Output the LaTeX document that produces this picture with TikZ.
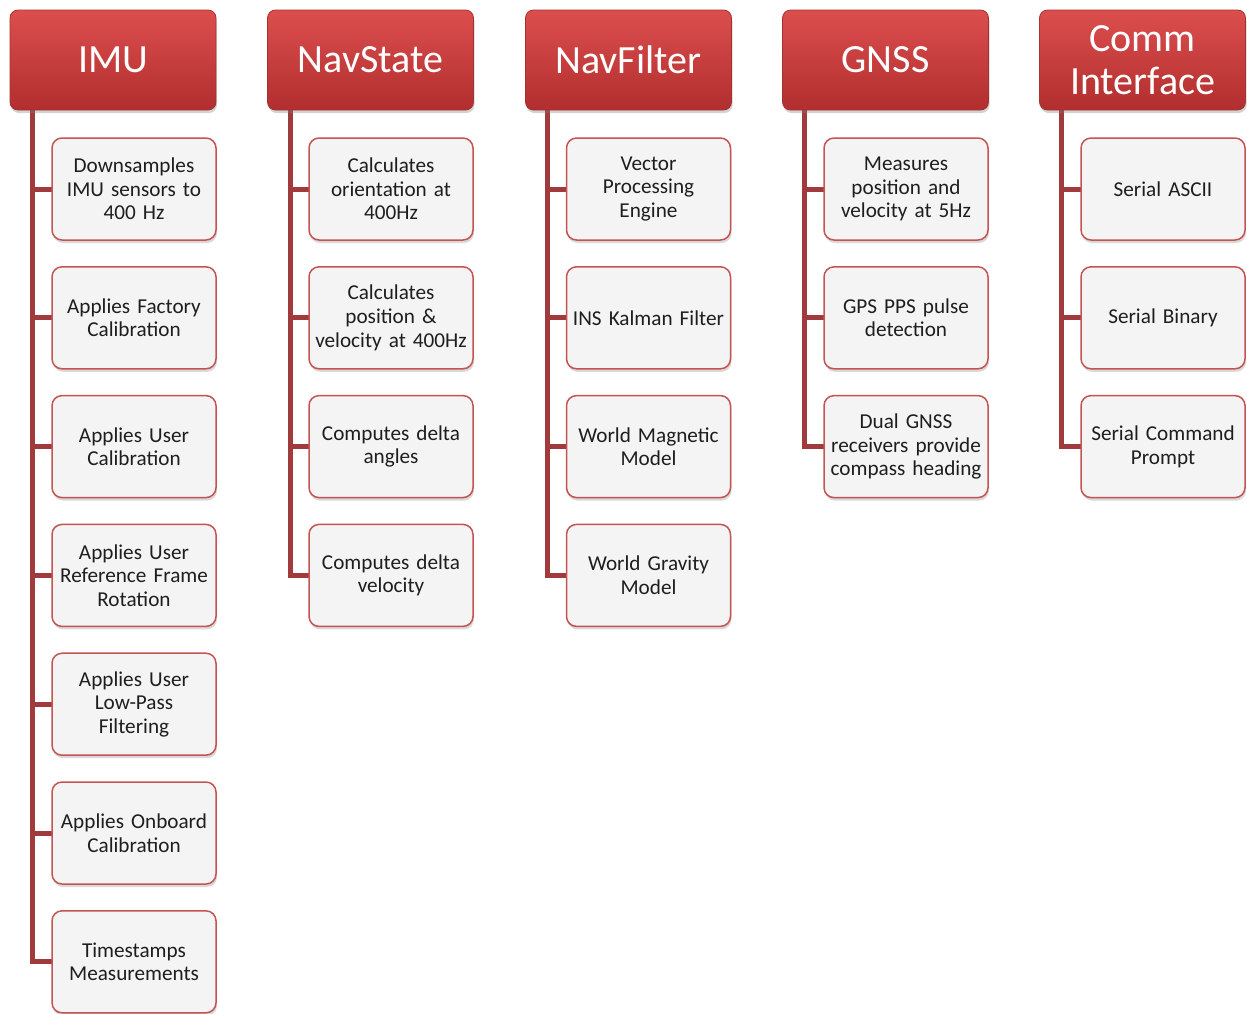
\documentclass[tikz,border=0pt]{standalone}
\usepackage{fontspec}
\setmainfont{Carlito}
\usetikzlibrary{shadows,positioning,calc}
\definecolor{hdtop}{HTML}{DC4E4E}
\definecolor{hdbot}{HTML}{B22E2E}
\definecolor{hdedge}{HTML}{A53232}
\definecolor{chfill}{HTML}{F4F4F4}
\definecolor{chedge}{HTML}{C45452}
\definecolor{conn}{HTML}{A03A3C}
\definecolor{txt}{HTML}{1E1E1E}
\tikzset{
  hdbox/.style={rounded corners=8pt, minimum width=206pt, minimum height=100pt,
    top color=hdtop, bottom color=hdbot, draw=hdedge, line width=0.8pt,
    text=white, align=center, font=\fontsize{40}{43}\selectfont,
    drop shadow={shadow xshift=1pt, shadow yshift=-3pt, opacity=0.35}},
  chbox/.style={rounded corners=10pt, minimum width=164pt, minimum height=102pt,
    fill=chfill, draw=chedge, line width=1.5pt, text=txt, align=center,
    text width=162pt, inner sep=1pt, font=\fontsize{21.2}{23.6}\selectfont,
    drop shadow={shadow xshift=1pt, shadow yshift=-3pt, opacity=0.3}},
  link/.style={conn, line width=5pt, line join=miter}
}
\begin{document}
\begin{tikzpicture}[x=1pt,y=1pt]
\useasboundingbox (0,0) rectangle (1247,-1013);
% connectors first
\foreach \cx/\n/\last in {32/1/7, 290/2/4, 547/3/4, 804/4/3, 1061/5/3}{
  \pgfmathsetmacro{\ly}{-(189+(\last-1)*128.8)}
  \draw[link] (\cx,-108) |- (\cx+22,\ly);
  \pgfmathtruncatemacro{\lm}{\last-1}
  \ifnum\lm>0
  \foreach \k in {1,...,\lm}{
    \pgfmathsetmacro{\ky}{-(189+(\k-1)*128.8)}
    \draw[link] (\cx,\ky) -- (\cx+22,\ky);
  }
  \fi
}
% headers
\node[hdbox] (h1) at (113,-60) {IMU};
\node[hdbox] (h2) at (370.5,-60) {NavState};
\node[hdbox] (h3) at (628.5,-60) {NavFilter};
\node[hdbox] (h4) at (885.5,-60) {GNSS};
\node[hdbox] (h5) at (1142.5,-60) {Comm\\Interface};
% IMU children
\node[chbox] (c11) at (134,-189) {Downsamples\\IMU sensors to\\400 Hz};
\node[chbox] (c12) at (134,-317.8) {Applies Factory\\Calibration};
\node[chbox] (c13) at (134,-446.6) {Applies User\\Calibration};
\node[chbox] (c14) at (134,-575.4) {Applies User\\Reference Frame\\Rotation};
\node[chbox] (c15) at (134,-704.2) {Applies User\\Low-Pass\\Filtering};
\node[chbox] (c16) at (134,-833) {Applies Onboard\\Calibration};
\node[chbox] (c17) at (134,-961.8) {Timestamps\\Measurements};
% NavState
\node[chbox] (c21) at (391,-189) {Calculates\\orientation at\\400Hz};
\node[chbox] (c22) at (391,-317.8) {Calculates\\position \&\\velocity at 400Hz};
\node[chbox] (c23) at (391,-446.6) {Computes delta\\angles};
\node[chbox] (c24) at (391,-575.4) {Computes delta\\velocity};
% NavFilter
\node[chbox] (c31) at (648.5,-189) {Vector\\Processing\\Engine};
\node[chbox] (c32) at (648.5,-317.8) {INS Kalman Filter};
\node[chbox] (c33) at (648.5,-446.6) {World Magnetic\\Model};
\node[chbox] (c34) at (648.5,-575.4) {World Gravity\\Model};
% GNSS
\node[chbox] (c41) at (906,-189) {Measures\\position and\\velocity at 5Hz};
\node[chbox] (c42) at (906,-317.8) {GPS PPS pulse\\detection};
\node[chbox] (c43) at (906,-446.6) {Dual GNSS\\receivers provide\\compass heading};
% Comm
\node[chbox] (c51) at (1163,-189) {Serial ASCII};
\node[chbox] (c52) at (1163,-317.8) {Serial Binary};
\node[chbox] (c53) at (1163,-446.6) {Serial Command\\Prompt};
\end{tikzpicture}
\end{document}
